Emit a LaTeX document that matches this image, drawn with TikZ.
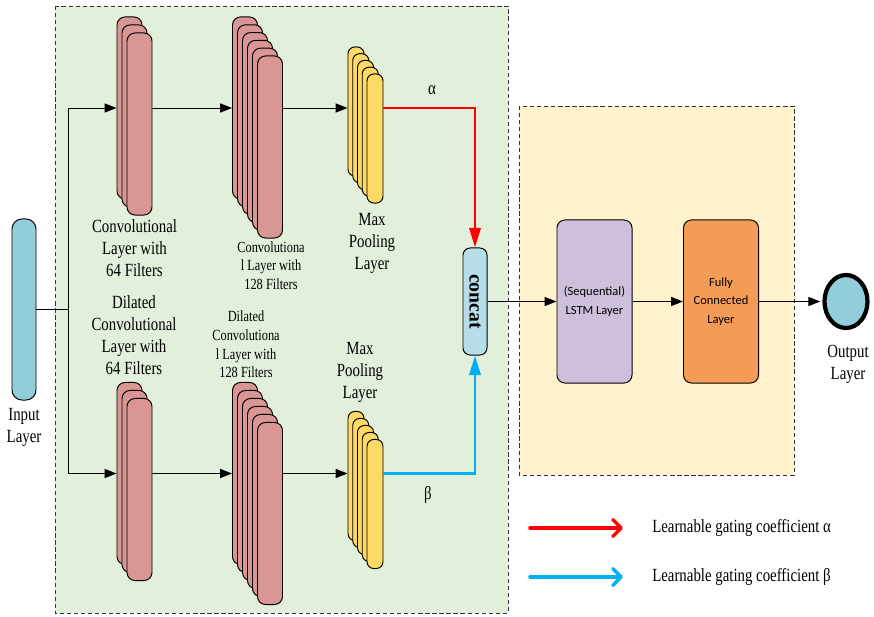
\documentclass[tikz,border=0pt]{standalone}
\usepackage{fontspec}
\usepackage{graphicx}
\setmainfont{Liberation Serif}[FakeStretch=0.8]
\newfontfamily\plainserif{Liberation Serif}
\newfontfamily\calibri{Carlito}
\usetikzlibrary{arrows.meta,shapes.geometric}
\definecolor{panelgreen}{HTML}{E2EFDA}
\definecolor{panelyellow}{HTML}{FFF2CC}
\definecolor{convpink}{HTML}{D99694}
\definecolor{poolyellow}{HTML}{FFD966}
\definecolor{inblue}{HTML}{92CDDC}
\definecolor{catblue}{HTML}{B7DEE8}
\definecolor{lstmpurple}{HTML}{CCC0DA}
\definecolor{fcorange}{HTML}{F59B58}
\definecolor{alphared}{HTML}{FF0000}
\definecolor{betablue}{HTML}{00B0F0}
\tikzset{>={Triangle[width=6.5pt,length=8.5pt]},
  base/.style = {
    rectangle, rounded corners=0.2cm, draw=black, line width=0.7pt,
    inner sep=0pt, text centered
  },
  convl/.style = {base, minimum width=0.625cm, minimum height=4.55cm, fill=convpink},
  pooll/.style = {base, minimum width=0.4cm, minimum height=3.225cm, fill=poolyellow, rounded corners=0.17cm},
  block/.style = {base, minimum width=1.875cm, minimum height=4.075cm,
    font=\calibri\fontsize{8.9}{13.2}\selectfont, align=center},
  lbl/.style = {inner sep=0pt, align=center, font=\fontsize{13.2}{15.6}\selectfont},
  slbl/.style = {inner sep=0pt, align=center, font=\fontsize{11}{13.2}\selectfont},
  panel/.style = {draw=black!80, line width=0.7pt, dash pattern=on 3pt off 2pt},
  link/.style = {line width=0.7pt},
  gate/.style = {line width=2.1pt, -{Triangle[width=8pt,length=14pt]}},
  key/.style = {line width=2.5pt, line cap=round, -{Straight Barb[round,width=12pt,length=6pt]}},
}
\begin{document}
\begin{tikzpicture}[x=0.025cm, y=-0.025cm]
  \useasboundingbox (0,0) rectangle (874,617);
  \draw[panel, fill=panelgreen] (55,6) rectangle (508,613);
  \draw[panel, fill=panelyellow] (519,106) rectangle (794,475);

  \node (inp) [base, fill=inblue, minimum width=0.6cm, minimum height=4.525cm, rounded corners=0.25cm] at (24,309.5) {};
  \node (inp_i) [lbl] at (24,427.5) {Input\\Layer};
  \coordinate (br) at (68,309.5);

  \foreach \i in {0,1,2}
    \node (tc1-\i) [convl] at (129.5+5*\i, 108+8*\i) {};
  \foreach \i in {0,...,5}
    \node (tc2-\i) [convl] at (245+5*\i, 108+7.8*\i) {};
  \foreach \i in {0,...,4}
    \node (tp-\i) [pooll] at (356+4.75*\i, 111.5+6.75*\i) {};
  \foreach \i in {0,1,2}
    \node (bc1-\i) [convl] at (129.5+5*\i, 473.5+8*\i) {};
  \foreach \i in {0,...,5}
    \node (bc2-\i) [convl] at (245+5*\i, 473.5+8*\i) {};
  \foreach \i in {0,...,4}
    \node (bp-\i) [pooll] at (356+4.75*\i, 476+7*\i) {};

  \node (tc1_i) [lbl] at (134.5,248) {Convolutional\\Layer with\\64 Filters};
  \node (bc1_i) [lbl] at (134,335) {Dilated\\Convolutional\\Layer with\\64 Filters};
  \node (tc2_i) [slbl] at (271,265.5) {Convolutiona\\l Layer with\\128 Filters};
  \node (bc2_i) [slbl] at (246,344.5) {Dilated\\Convolutiona\\l Layer with\\128 Filters};
  \node (tp_i) [lbl] at (372,243) {Max\\Pooling\\Layer};
  \node (bp_i) [lbl] at (360,372) {Max\\Pooling\\Layer};

  \node (cat) [base, fill=catblue, minimum width=0.6cm, minimum height=2.675cm, rounded corners=0.18cm] at (475,301.5)
    {\rotatebox{-90}{\plainserif\bfseries\fontsize{14}{14}\selectfont concat}};
  \node (lstm) [block, fill=lstmpurple] at (594.5,301.5) {(Sequential)\\LSTM Layer};
  \node (fc) [block, fill=fcorange] at (721,301.5) {Fully\\Connected\\Layer};
  \node (out) [ellipse, draw=black, line width=3pt, fill=inblue, minimum width=1.075cm, minimum height=1.325cm] at (846,301.5) {};
  \node (out_i) [lbl] at (848,364) {Output\\Layer};

  \node (a_i) [lbl] at (432,90) {α};
  \node (b_i) [lbl] at (428,495) {β};

  \draw[link] (inp.east) -- (br);
  \draw[link, ->] (br) |- (tc1-0.west);
  \draw[link, ->] (br) |- (bc1-0.west);
  \draw[link, ->] (tc1-2.east |- tc1-0.west) -- (tc2-0.west);
  \draw[link, ->] (tc2-5.east |- tc2-0.west) -- (tp-0.west |- tc2-0.west);
  \draw[link, ->] (bc1-2.east |- bc1-0.west) -- (bc2-0.west);
  \draw[link, ->] (bc2-5.east |- bc2-0.west) -- (bp-0.west |- bc2-0.west);
  \draw[gate, alphared] (tp-4.east |- tc2-0.west) -| (cat.north);
  \draw[gate, betablue] (bp-4.east |- bc2-0.west) -| (cat.south);
  \draw[link, ->] (cat.east) -- (lstm.west);
  \draw[link, ->] (lstm) -- (fc);
  \draw[link, ->, shorten >=1.5pt] (fc) -- (out);

  \coordinate (ka0) at (530,528);
  \coordinate (ka1) at (623,528);
  \coordinate (kb0) at (530,577);
  \coordinate (kb1) at (623,577);
  \draw[key, alphared] (ka0) -- (ka1);
  \draw[key, betablue] (kb0) -- (kb1);
  \node (ka_i) [lbl, anchor=west] at (652,528) {Learnable gating coefficient α};
  \node (kb_i) [lbl, anchor=west] at (652,577) {Learnable gating coefficient β};
\end{tikzpicture}
\end{document}
